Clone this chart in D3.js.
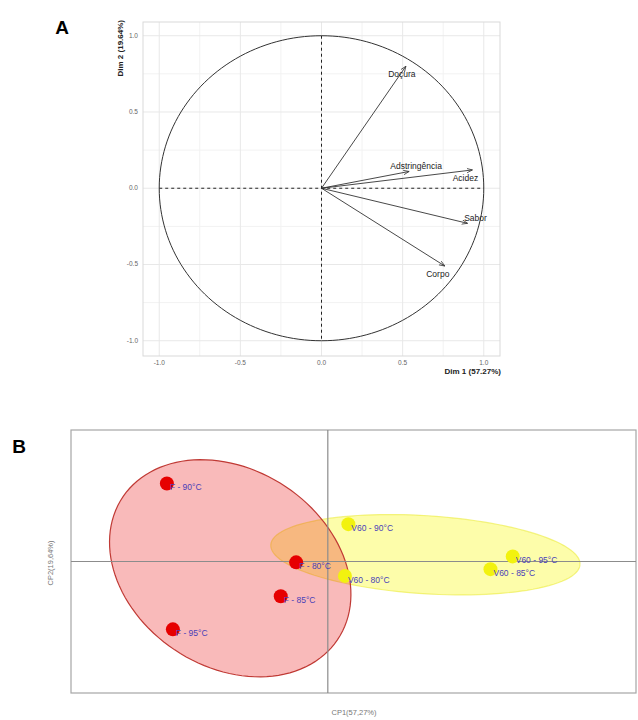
<!DOCTYPE html>
<meta charset="utf-8">
<script src="https://d3js.org/d3.v7.min.js"></script>
<style>
  body { margin: 0; background: #fff; }
  svg { display: block; font-family: "Liberation Sans", Arial, sans-serif; }
</style>
<div id="chart"></div>
<script>

// Panel A: variable loadings (correlation circle)
var variables = ["Doçura", "Adstringência", "Acidez", "Sabor", "Corpo"];
var dim1 = [0.52, 0.54, 0.93, 0.90, 0.76];
var dim2 = [0.80, 0.11, 0.12, -0.23, -0.51];
var axisTicks = [-1.0, -0.5, 0.0, 0.5, 1.0];
var minorTicks = [-0.75, -0.25, 0.25, 0.75];

// Panel B: sample scores
var samples = ["F - 90°C", "F - 80°C", "F - 85°C", "F - 95°C",
               "V60 - 90°C", "V60 - 80°C", "V60 - 95°C", "V60 - 85°C"];
var sampleGroup = ["F", "F", "F", "F", "V60", "V60", "V60", "V60"];
var cp1 = [-1.88, -0.37, -0.55, -1.81, 0.24, 0.20, 2.16, 1.90];
var cp2 = [0.92, -0.01, -0.41, -0.80, 0.44, -0.17, 0.06, -0.09];

// group ellipses: centre, semi-axes and tilt (degrees)
var ellipseGroup = ["V60", "F"];
var ellipseCx = [1.14, -1.14];
var ellipseCy = [0.08, -0.08];
var ellipseRx = [1.81, 1.51];
var ellipseRy = [0.46, 1.16];
var ellipseTilt = [-3.7, -34];

var width = 638, height = 720;

var svg = d3.select("#chart")
  .append("svg")
    .attr("width", width)
    .attr("height", height);

// ---------------- Panel A ----------------
var xA = d3.scaleLinear().domain([-1.1, 1.1]).range([143, 500]);
var yA = d3.scaleLinear().domain([-1.1, 1.09]).range([356, 22]);

var gA = svg.append("g");

// minor and major grid
gA.selectAll(".minor-x").data(minorTicks).enter().append("line")
  .attr("x1", d => xA(d)).attr("x2", d => xA(d))
  .attr("y1", yA.range()[0]).attr("y2", yA.range()[1])
  .attr("stroke", "#f2f2f2");
gA.selectAll(".minor-y").data(minorTicks).enter().append("line")
  .attr("y1", d => yA(d)).attr("y2", d => yA(d))
  .attr("x1", xA.range()[0]).attr("x2", xA.range()[1])
  .attr("stroke", "#f2f2f2");
gA.selectAll(".major-x").data(axisTicks).enter().append("line")
  .attr("x1", d => xA(d)).attr("x2", d => xA(d))
  .attr("y1", yA.range()[0]).attr("y2", yA.range()[1])
  .attr("stroke", "#e8e8e8");
gA.selectAll(".major-y").data(axisTicks).enter().append("line")
  .attr("y1", d => yA(d)).attr("y2", d => yA(d))
  .attr("x1", xA.range()[0]).attr("x2", xA.range()[1])
  .attr("stroke", "#e8e8e8");

// panel border
gA.append("rect")
  .attr("x", xA.range()[0]).attr("y", yA.range()[1])
  .attr("width", xA.range()[1] - xA.range()[0])
  .attr("height", yA.range()[0] - yA.range()[1])
  .attr("fill", "none")
  .attr("stroke", "#d9d9d9");

// tick labels
gA.selectAll(".xt").data(axisTicks).enter().append("text")
  .attr("x", d => xA(d)).attr("y", 365)
  .attr("text-anchor", "middle")
  .attr("font-size", 6.5).attr("fill", "#666")
  .text(d => d.toFixed(1));
gA.selectAll(".yt").data(axisTicks).enter().append("text")
  .attr("x", 138).attr("y", d => yA(d) + 2)
  .attr("text-anchor", "end")
  .attr("font-size", 6.5).attr("fill", "#666")
  .text(d => d.toFixed(1));

// unit circle
var circlePts = d3.range(0, 361, 2).map(a => [Math.cos(a * Math.PI / 180), Math.sin(a * Math.PI / 180)]);
gA.append("path")
  .datum(circlePts)
  .attr("d", d3.line().x(d => xA(d[0])).y(d => yA(d[1])))
  .attr("fill", "none")
  .attr("stroke", "#333")
  .attr("stroke-width", 1);

// dashed axes across the circle
gA.append("line")
  .attr("x1", xA(-1)).attr("x2", xA(1)).attr("y1", yA(0)).attr("y2", yA(0))
  .attr("stroke", "#222").attr("stroke-dasharray", "3,3");
gA.append("line")
  .attr("x1", xA(0)).attr("x2", xA(0)).attr("y1", yA(1)).attr("y2", yA(-1))
  .attr("stroke", "#222").attr("stroke-dasharray", "3,3");

// arrows
svg.append("defs").append("marker")
  .attr("id", "arrow")
  .attr("viewBox", "0 0 10 10")
  .attr("refX", 9).attr("refY", 5)
  .attr("markerWidth", 7).attr("markerHeight", 7)
  .attr("orient", "auto")
  .append("path")
    .attr("d", "M0,1.5 L9,5 L0,8.5")
    .attr("fill", "none")
    .attr("stroke", "#333")
    .attr("stroke-width", 1.2);

var loadings = variables.map((v, i) => ({name: v, x: dim1[i], y: dim2[i]}));

gA.selectAll(".arrow").data(loadings).enter().append("line")
  .attr("x1", xA(0)).attr("y1", yA(0))
  .attr("x2", d => xA(d.x)).attr("y2", d => yA(d.y))
  .attr("stroke", "#333")
  .attr("stroke-width", 0.9)
  .attr("marker-end", "url(#arrow)");

// label nudges (px) so the text sits like the reference
var labelNudge = {
  "Doçura": [-4, 11],
  "Adstringência": [7, -2],
  "Acidez": [-7, 11],
  "Sabor": [8, -2],
  "Corpo": [-7, 11]
};
gA.selectAll(".vlab").data(loadings).enter().append("text")
  .attr("x", d => xA(d.x) + labelNudge[d.name][0])
  .attr("y", d => yA(d.y) + labelNudge[d.name][1])
  .attr("text-anchor", "middle")
  .attr("font-size", 8.5)
  .attr("fill", "#222")
  .text(d => d.name);

// axis titles
gA.append("text")
  .attr("x", 501).attr("y", 374)
  .attr("text-anchor", "end")
  .attr("font-size", 8).attr("font-weight", "bold").attr("fill", "#222")
  .text("Dim 1 (57.27%)");
gA.append("text")
  .attr("transform", "translate(123,20) rotate(-90)")
  .attr("text-anchor", "end")
  .attr("font-size", 8).attr("font-weight", "bold").attr("fill", "#222")
  .text("Dim 2 (19.64%)");

svg.append("text")
  .attr("x", 62).attr("y", 34)
  .attr("text-anchor", "middle")
  .attr("font-size", 19).attr("font-weight", "bold")
  .text("A");

// ---------------- Panel B ----------------
var xB = d3.scaleLinear().domain([-3, 3.6]).range([71, 636]);
var yB = d3.scaleLinear().domain([-1.55, 1.55]).range([693, 430]);

var gB = svg.append("g");

gB.append("rect")
  .attr("x", xB.range()[0]).attr("y", yB.range()[1])
  .attr("width", xB.range()[1] - xB.range()[0])
  .attr("height", yB.range()[0] - yB.range()[1])
  .attr("fill", "#fff")
  .attr("stroke", "#a6a6a6")
  .attr("stroke-width", 1.2);

// ellipses
var ellFill = {"F": "rgba(235,40,40,0.32)", "V60": "rgba(250,250,20,0.36)"};
var ellStroke = {"F": "#c03a35", "V60": "rgba(235,235,60,0.6)"};
var ellipses = ellipseGroup.map((g, i) => {
  var th = ellipseTilt[i] * Math.PI / 180;
  return {
    group: g,
    pts: d3.range(0, 361, 3).map(a => {
      var t = a * Math.PI / 180;
      var ex = ellipseRx[i] * Math.cos(t), ey = ellipseRy[i] * Math.sin(t);
      return [ellipseCx[i] + ex * Math.cos(th) - ey * Math.sin(th),
              ellipseCy[i] + ex * Math.sin(th) + ey * Math.cos(th)];
    })
  };
});
gB.selectAll(".ell").data(ellipses).enter().append("path")
  .attr("d", d => d3.line().x(p => xB(p[0])).y(p => yB(p[1]))(d.pts))
  .attr("fill", d => ellFill[d.group])
  .attr("stroke", d => ellStroke[d.group])
  .attr("stroke-width", 1.2);

// axes through origin
gB.append("line")
  .attr("x1", xB.range()[0]).attr("x2", xB.range()[1])
  .attr("y1", yB(0)).attr("y2", yB(0))
  .attr("stroke", "#8c8c8c").attr("stroke-width", 1.2);
gB.append("line")
  .attr("x1", xB(0)).attr("x2", xB(0))
  .attr("y1", yB.range()[0]).attr("y2", yB.range()[1])
  .attr("stroke", "#8c8c8c").attr("stroke-width", 1.2);

// points and labels
var scores = samples.map((s, i) => ({name: s, group: sampleGroup[i], x: cp1[i], y: cp2[i]}));
var dotColor = {"F": "#e60000", "V60": "#f2f20f"};

gB.selectAll(".dot").data(scores).enter().append("circle")
  .attr("cx", d => xB(d.x)).attr("cy", d => yB(d.y))
  .attr("r", 7)
  .attr("fill", d => dotColor[d.group]);

gB.selectAll(".slab").data(scores).enter().append("text")
  .attr("x", d => xB(d.x) + 3)
  .attr("y", d => yB(d.y) + 7)
  .attr("font-size", 8.5)
  .attr("fill", "#4a3fb8")
  .text(d => d.name);

// axis titles
gB.append("text")
  .attr("x", 354).attr("y", 715)
  .attr("text-anchor", "middle")
  .attr("font-size", 7.5).attr("fill", "#777")
  .text("CP1(57,27%)");
gB.append("text")
  .attr("transform", "translate(53,563) rotate(-90)")
  .attr("text-anchor", "middle")
  .attr("font-size", 7.5).attr("fill", "#777")
  .text("CP2(19,64%)");

svg.append("text")
  .attr("x", 19).attr("y", 453)
  .attr("text-anchor", "middle")
  .attr("font-size", 19).attr("font-weight", "bold")
  .text("B");

</script>
